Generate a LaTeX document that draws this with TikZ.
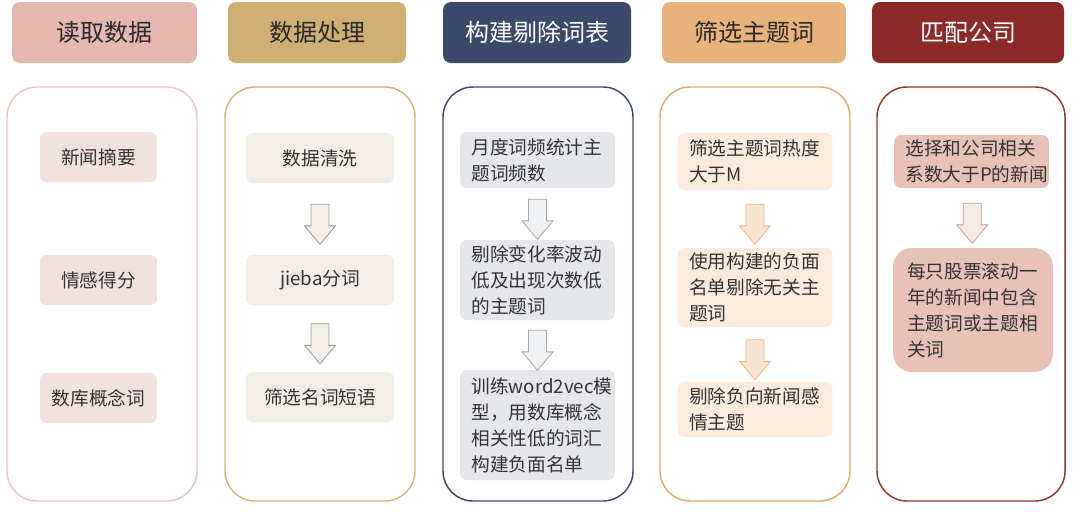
\documentclass[tikz,border=0pt]{standalone}
\usepackage{fontspec}
\setmainfont{Noto Sans CJK SC}
\usepackage{tikz}
\usetikzlibrary{shapes.arrows,positioning}

\definecolor{hdA}{HTML}{E4B8AE}
\definecolor{hdB}{HTML}{CFAF74}
\definecolor{hdC}{HTML}{3B4A6B}
\definecolor{hdD}{HTML}{E8B27C}
\definecolor{hdE}{HTML}{8B2A27}
\definecolor{lnA}{HTML}{E9C6BE}
\definecolor{lnB}{HTML}{D2B880}
\definecolor{lnC}{HTML}{3D4A68}
\definecolor{lnD}{HTML}{E6A76A}
\definecolor{lnE}{HTML}{8E3A2A}
\definecolor{bxA}{HTML}{F2E2DE}
\definecolor{bxB}{HTML}{F2EEE6}
\definecolor{bxC}{HTML}{E5E7EB}
\definecolor{bxD}{HTML}{FAEBDD}
\definecolor{bxE}{HTML}{E8C2B6}
\definecolor{txtdark}{HTML}{2A2A2A}
\definecolor{txtgray}{HTML}{333333}

\tikzset{
  head/.style={rounded corners=6pt, minimum height=45.75pt, inner sep=0pt,
    font=\fontsize{18}{22}\selectfont, text=txtdark},
  panel/.style={draw, line width=1.1pt, rounded corners=22.5pt, fill=white,
    minimum width=142.5pt, minimum height=310.5pt},
  item/.style={rounded corners=5pt, inner sep=0pt,
    font=\fontsize{14}{19.5}\selectfont, text=txtgray},
  itemL/.style={item, align=left, text width=99pt, inner xsep=8.5pt},
  down/.style={single arrow, rotate=-90, minimum height=30pt, minimum width=0pt,
    inner xsep=0pt, inner ysep=6.4pt, single arrow head extend=4.9pt,
    single arrow tip angle=80, line width=0.6pt}
}

\begin{document}
\begin{tikzpicture}[x=0.75pt, y=-0.75pt]
\useasboundingbox (0,0) rectangle (1080,518);

% headers
\node[head, fill=hdA, minimum width=138.75pt] (h1) at (104.5,32.5) {读取数据};
\node[head, fill=hdB, minimum width=133.5pt] (h2) at (317,32.5) {数据处理};
\node[head, fill=hdC, minimum width=141pt, text=white] (h3) at (537,32.5) {构建剔除词表};
\node[head, fill=hdD, minimum width=138pt] (h4) at (754,32.5) {筛选主题词};
\node[head, fill=hdE, minimum width=144pt, text=white] (h5) at (968,32.5) {匹配公司};

% panels
\node[panel, draw=lnA] (p1) at (102,294) {};
\node[panel, draw=lnB] (p2) at (320,294) {};
\node[panel, draw=lnC] (p3) at (538,294) {};
\node[panel, draw=lnD] (p4) at (755,294) {};
\node[panel, draw=lnE, minimum width=141pt] (p5) at (971,294) {};

% read data
\node[item, fill=bxA, minimum width=87.75pt, minimum height=37.5pt] (a1) at (98.5,157) {新闻摘要};
\node[item, fill=bxA, minimum width=87.75pt, minimum height=37.5pt] (a2) at (98.5,280) {情感得分};
\node[item, fill=bxA, minimum width=87.75pt, minimum height=37.5pt] (a3) at (98.5,398) {数库概念词};

% processing
\node[item, fill=bxB, minimum width=111pt, minimum height=37.5pt] (b1) at (320,158) {数据清洗};
\node[item, fill=bxB, minimum width=111pt, minimum height=37.5pt] (b2) at (320,280) {jieba分词};
\node[item, fill=bxB, minimum width=111pt, minimum height=37.5pt] (b3) at (320,397) {筛选名词短语};
\path (b1.south) -- (b2.north) node[midway, down, fill=bxB, draw=black!40] {};
\path (b2.south) -- (b3.north) node[midway, down, fill=bxB, draw=black!40] {};

% stop list
\node[itemL, fill=bxC, minimum height=42pt] (c1) at (537.5,160) {月度词频统计主\\题词频数};
\node[itemL, fill=bxC, minimum height=60pt] (c2) at (537.5,280) {剔除变化率波动\\低及出现次数低\\的主题词};
\node[itemL, fill=bxC, minimum height=82.5pt] (c3) at (537.5,425) {训练word2vec模\\型，用数库概念\\相关性低的词汇\\构建负面名单};
\path (c1.south) -- (c2.north) node[midway, down, fill=bxC!60!white, draw=black!35] {};
\path (c2.south) -- (c3.north) node[midway, down, fill=bxC!60!white, draw=black!35] {};

% topic words
\node[itemL, fill=bxD, minimum height=42.75pt] (d1) at (755,161.5) {筛选主题词热度\\大于M};
\node[itemL, fill=bxD, minimum height=59.25pt] (d2) at (755,287.5) {使用构建的负面\\名单剔除无关主\\题词};
\node[itemL, fill=bxD, minimum height=41.25pt] (d3) at (755,409.5) {剔除负向新闻感\\情主题};
\path (d1.south) -- (d2.north) node[midway, down, fill=hdD!35!white, draw=lnD!80] {};
\path (d2.south) -- (d3.north) node[midway, down, fill=hdD!35!white, draw=lnD!80] {};

% match companies
\node[itemL, fill=bxE, minimum height=39.75pt] (e1) at (971.5,161.5) {选择和公司相关\\系数大于P的新闻};
\node[itemL, fill=bxE, rounded corners=14pt, minimum width=120pt, minimum height=93pt] (e2) at (973,310) {每只股票滚动一\\年的新闻中包含\\主题词或主题相\\关词};
\path (e1.south) -- (e2.north) node[midway, down, fill=bxE!35!white, draw=lnE!50] {};

\end{tikzpicture}
\end{document}
